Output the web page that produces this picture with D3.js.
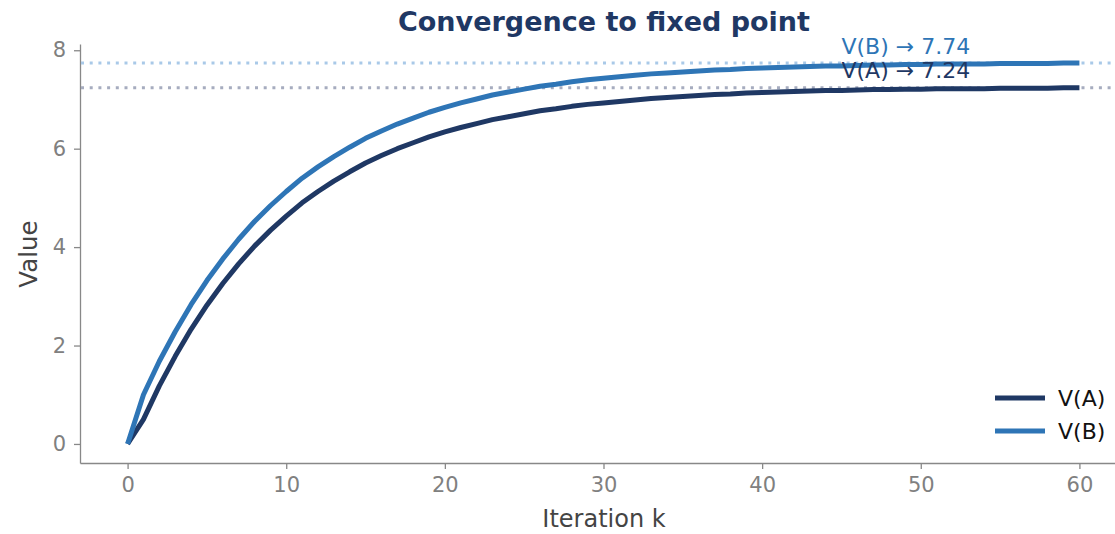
<!DOCTYPE html>
<html>
<head>
<meta charset="utf-8">
<script src="https://cdn.jsdelivr.net/npm/d3@7"></script>
<style>
  body { margin: 0; background: #fff; }
  svg { display: block; font-family: "DejaVu Sans", sans-serif; }
</style>
</head>
<body>
<div id="chart"></div>
<script>
// Data
const iterations = d3.range(0, 61);
const valueA = [0, 0.50, 1.18, 1.78, 2.33, 2.82, 3.26, 3.66, 4.02, 4.34,
  4.63, 4.90, 5.13, 5.34, 5.53, 5.71, 5.86, 6.00, 6.12, 6.24,
  6.34, 6.43, 6.51, 6.59, 6.65, 6.71, 6.77, 6.81, 6.86, 6.90,
  6.93, 6.96, 6.99, 7.02, 7.04, 7.06, 7.08, 7.10, 7.11, 7.13,
  7.14, 7.15, 7.16, 7.17, 7.18, 7.18, 7.19, 7.20, 7.20, 7.21,
  7.21, 7.22, 7.22, 7.22, 7.22, 7.23, 7.23, 7.23, 7.23, 7.24, 7.24];
const valueB = [0, 1.00, 1.68, 2.28, 2.83, 3.32, 3.76, 4.16, 4.52, 4.84,
  5.13, 5.40, 5.63, 5.84, 6.03, 6.21, 6.36, 6.50, 6.62, 6.74,
  6.84, 6.93, 7.01, 7.09, 7.15, 7.21, 7.27, 7.31, 7.36, 7.40,
  7.43, 7.46, 7.49, 7.52, 7.54, 7.56, 7.58, 7.60, 7.61, 7.63,
  7.64, 7.65, 7.66, 7.67, 7.68, 7.68, 7.69, 7.70, 7.70, 7.71,
  7.71, 7.72, 7.72, 7.72, 7.72, 7.73, 7.73, 7.73, 7.73, 7.74, 7.74];
const seriesNames = ["V(A)", "V(B)"];
const fixedPoints = [7.24, 7.74];
const xTicks = [0, 10, 20, 30, 40, 50, 60];
const yTicks = [0, 2, 4, 6, 8];

const colors = ["#1f3864", "#2e75b6"];
const dotColors = ["#a6acbf", "#a9c9e8"];

const width = 1115, height = 534;
const margin = { top: 44, left: 80, bottom: 71 };

const svg = d3.select("#chart")
  .append("svg")
  .attr("width", width)
  .attr("height", height);

// Scales
const x = d3.scaleLinear().domain([-3, 63]).range([margin.left, 1127]);
const y = d3.scaleLinear().domain([-0.387, 8.127]).range([height - margin.bottom, margin.top]);

// Axes
const xAxis = svg.append("g")
  .attr("transform", "translate(0," + (height - margin.bottom) + ")")
  .call(d3.axisBottom(x).tickValues(xTicks).tickSize(6).tickPadding(8).tickSizeOuter(0));
const yAxis = svg.append("g")
  .attr("transform", "translate(" + margin.left + ",0)")
  .call(d3.axisLeft(y).tickValues(yTicks).tickSize(6).tickPadding(8).tickSizeOuter(0));

[xAxis, yAxis].forEach(function(ax) {
  ax.select(".domain").attr("stroke", "#888").attr("stroke-width", 1.3);
  ax.selectAll(".tick line").attr("stroke", "#888").attr("stroke-width", 1.3);
  ax.selectAll(".tick text")
    .attr("fill", "#808080")
    .style("font-size", "21px")
    .style("font-family", "DejaVu Sans");
});

// Dotted fixed point lines
fixedPoints.forEach(function(v, i) {
  svg.append("line")
    .attr("x1", margin.left + 1).attr("x2", width)
    .attr("y1", y(v)).attr("y2", y(v))
    .attr("stroke", dotColors[i])
    .attr("stroke-width", 3)
    .attr("stroke-dasharray", "3,5.7");
});

// Curves
const line = d3.line()
  .x(function(d, i) { return x(iterations[i]); })
  .y(function(d) { return y(d); });

[valueA, valueB].forEach(function(vals, i) {
  svg.append("path")
    .datum(vals)
    .attr("fill", "none")
    .attr("stroke", colors[i])
    .attr("stroke-width", 5)
    .attr("stroke-linejoin", "round")
    .attr("d", line);
});

// Fixed point labels
svg.append("text")
  .attr("x", x(45)).attr("y", y(fixedPoints[1]) - 9)
  .attr("fill", colors[1])
  .style("font-size", "22px")
  .text("V(B) \u2192 7.74");
svg.append("text")
  .attr("x", x(45)).attr("y", y(fixedPoints[1]) + 15)
  .attr("fill", colors[0])
  .style("font-size", "22px")
  .text("V(A) \u2192 7.24");

// Legend
seriesNames.forEach(function(name, i) {
  const ly = 398 + i * 33;
  svg.append("line")
    .attr("x1", 995).attr("x2", 1045)
    .attr("y1", ly).attr("y2", ly)
    .attr("stroke", colors[i])
    .attr("stroke-width", 5);
  svg.append("text")
    .attr("x", 1058).attr("y", ly + 8)
    .attr("fill", "#111")
    .style("font-size", "22px")
    .text(name);
});

// Axis labels
svg.append("text")
  .attr("x", 604).attr("y", 527)
  .attr("text-anchor", "middle")
  .attr("fill", "#444")
  .style("font-size", "24px")
  .text("Iteration k");

svg.append("text")
  .attr("transform", "rotate(-90)")
  .attr("x", -254)
  .attr("y", 37)
  .attr("text-anchor", "middle")
  .attr("fill", "#444")
  .style("font-size", "24.5px")
  .text("Value");

// Title
svg.append("text")
  .attr("x", 604).attr("y", 31)
  .attr("text-anchor", "middle")
  .attr("fill", "#1f3864")
  .style("font-size", "27px")
  .style("font-weight", "bold")
  .text("Convergence to fixed point");
</script>
</body>
</html>
